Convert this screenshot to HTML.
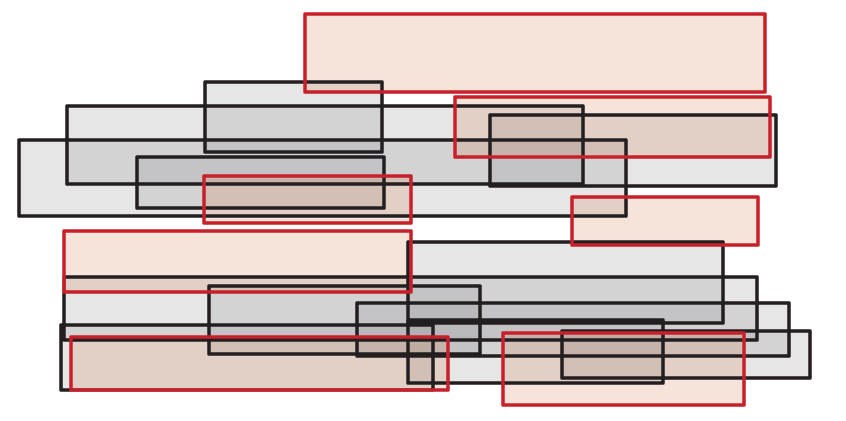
<!DOCTYPE html>
<html><head><meta charset="utf-8"><style>html,body{margin:0;padding:0;background:#fff}svg{display:block}</style></head>
<body>
<svg width="846" height="421" viewBox="0 0 846 421" xmlns="http://www.w3.org/2000/svg">
<defs>
<g id="b1">
<rect x="205" y="82" width="177" height="70"/>
<rect x="67" y="106" width="516" height="78"/>
<rect x="19" y="140" width="607" height="76"/>
<rect x="137" y="157" width="247" height="51"/>
<rect x="490" y="115" width="286" height="71"/>
<rect x="408" y="242" width="315" height="81"/>
<rect x="64" y="277" width="693" height="63"/>
<rect x="209" y="286" width="271" height="68"/>
<rect x="357" y="303" width="432" height="53"/>
<rect x="408" y="320" width="255" height="63"/>
<rect x="562" y="331" width="248" height="47"/>
<rect x="61" y="325" width="372" height="65"/>
</g>
<g id="r1">
<rect x="305" y="14" width="460" height="78"/>
<rect x="455" y="97" width="315" height="60"/>
<rect x="204" y="176" width="207" height="47"/>
<rect x="572" y="197" width="186" height="48"/>
<rect x="64" y="231" width="347" height="61"/>
<rect x="71" y="337" width="377" height="53"/>
<rect x="503" y="333" width="241" height="72"/>
</g>
</defs>
<use href="#b1" fill="rgba(150,152,155,0.24)" stroke="none"/>
<use href="#r1" fill="rgba(210,120,70,0.2)" stroke="none"/>
<use href="#b1" fill="none" stroke="#231f20" stroke-width="3.5" stroke-linejoin="round"/>
<use href="#r1" fill="none" stroke="#c8202a" stroke-width="3.5" stroke-linejoin="round"/>
</svg>
</body></html>
